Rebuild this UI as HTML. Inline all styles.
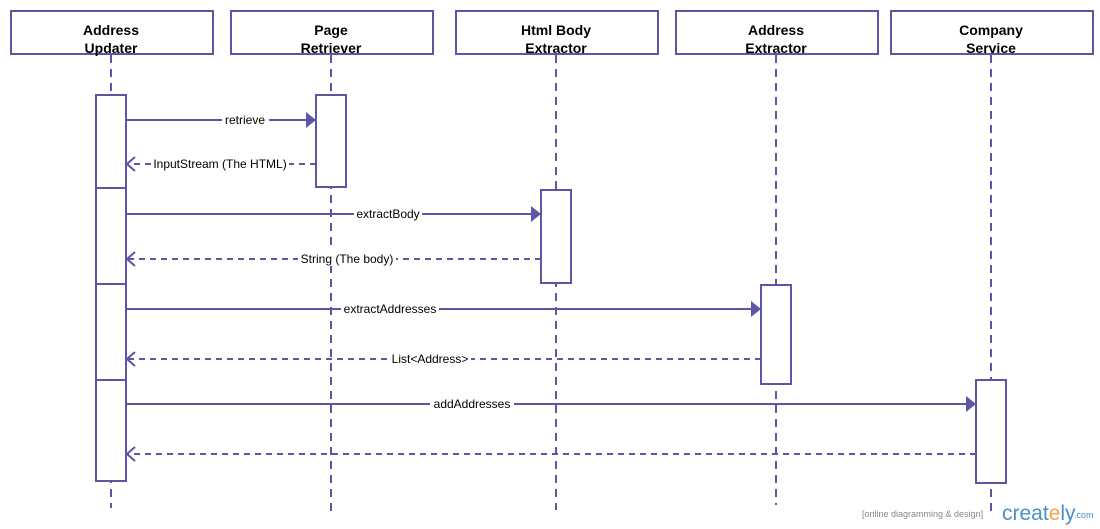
<!DOCTYPE html>
<html><head><style>body{margin:0;background:#fff}svg{display:block}</style></head><body>
<svg width="1100" height="529" xmlns="http://www.w3.org/2000/svg" font-family="Liberation Sans, Arial, sans-serif">
<g stroke="#5B57A6" stroke-width="2" fill="#fff">
<rect x="11" y="11" width="202" height="43"/>
<rect x="231" y="11" width="202" height="43"/>
<rect x="456" y="11" width="202" height="43"/>
<rect x="676" y="11" width="202" height="43"/>
<rect x="891" y="11" width="202" height="43"/>
<g stroke-dasharray="8,6" fill="none">
<line x1="111" y1="55" x2="111" y2="508"/>
<line x1="331" y1="55" x2="331" y2="515"/>
<line x1="556" y1="55" x2="556" y2="510"/>
<line x1="776" y1="55" x2="776" y2="505"/>
<line x1="991" y1="55" x2="991" y2="515"/>
</g>
<rect x="96" y="95" width="30" height="386"/>
<line x1="96" y1="188" x2="126" y2="188"/>
<line x1="96" y1="284" x2="126" y2="284"/>
<line x1="96" y1="380" x2="126" y2="380"/>
<rect x="316" y="95" width="30" height="92"/>
<rect x="541" y="190" width="30" height="93"/>
<rect x="761" y="285" width="30" height="99"/>
<rect x="976" y="380" width="30" height="103"/>
<g fill="none">
<line x1="126" y1="120" x2="306" y2="120"/>
<line x1="126" y1="214" x2="531" y2="214"/>
<line x1="126" y1="309" x2="751" y2="309"/>
<line x1="126" y1="404" x2="966" y2="404"/>
<g stroke-dasharray="6,5">
<line x1="316" y1="164" x2="128" y2="164"/>
<line x1="541" y1="259" x2="128" y2="259"/>
<line x1="761" y1="359" x2="128" y2="359"/>
<line x1="976" y1="454" x2="128" y2="454"/>
</g>
<polyline points="135,157 127,164 135,171"/>
<polyline points="135,252 127,259 135,266"/>
<polyline points="135,352 127,359 135,366"/>
<polyline points="135,447 127,454 135,461"/>
</g>
</g>
<g fill="#5B57A6">
<polygon points="306,112 316,120 306,128"/>
<polygon points="531,206 541,214 531,222"/>
<polygon points="751,301 761,309 751,317"/>
<polygon points="966,396 976,404 966,412"/>
</g>
<g font-size="14" font-weight="bold" text-anchor="middle" fill="#000">
<text x="111" y="35">Address</text><text x="111" y="53">Updater</text>
<text x="331" y="35">Page</text><text x="331" y="53">Retriever</text>
<text x="556" y="35">Html Body</text><text x="556" y="53">Extractor</text>
<text x="776" y="35">Address</text><text x="776" y="53">Extractor</text>
<text x="991" y="35">Company</text><text x="991" y="53">Service</text>
</g>
<g font-size="12" text-anchor="middle" fill="#000">
<rect x="222" y="112" width="47" height="15" fill="#fff"/><text x="245" y="124">retrieve</text>
<rect x="151" y="156" width="138" height="15" fill="#fff"/><text x="220" y="168">InputStream (The HTML)</text>
<rect x="354" y="206" width="68" height="15" fill="#fff"/><text x="388" y="218">extractBody</text>
<rect x="298" y="251" width="98" height="15" fill="#fff"/><text x="347" y="263">String (The body)</text>
<rect x="341" y="301" width="98" height="15" fill="#fff"/><text x="390" y="313">extractAddresses</text>
<rect x="389" y="351" width="82" height="15" fill="#fff"/><text x="430" y="363">List&lt;Address&gt;</text>
<rect x="430" y="396" width="84" height="15" fill="#fff"/><text x="472" y="408">addAddresses</text>
</g>
<text x="862" y="517" font-size="9" fill="#888">[online diagramming &amp; design]</text>
<text x="1002" y="520" font-size="21" fill="#4A8FC9">creat<tspan fill="#F2A54A">e</tspan>ly</text>
<text x="1074" y="518" font-size="9" fill="#4A8FC9">.com</text>
</svg>
</body></html>
